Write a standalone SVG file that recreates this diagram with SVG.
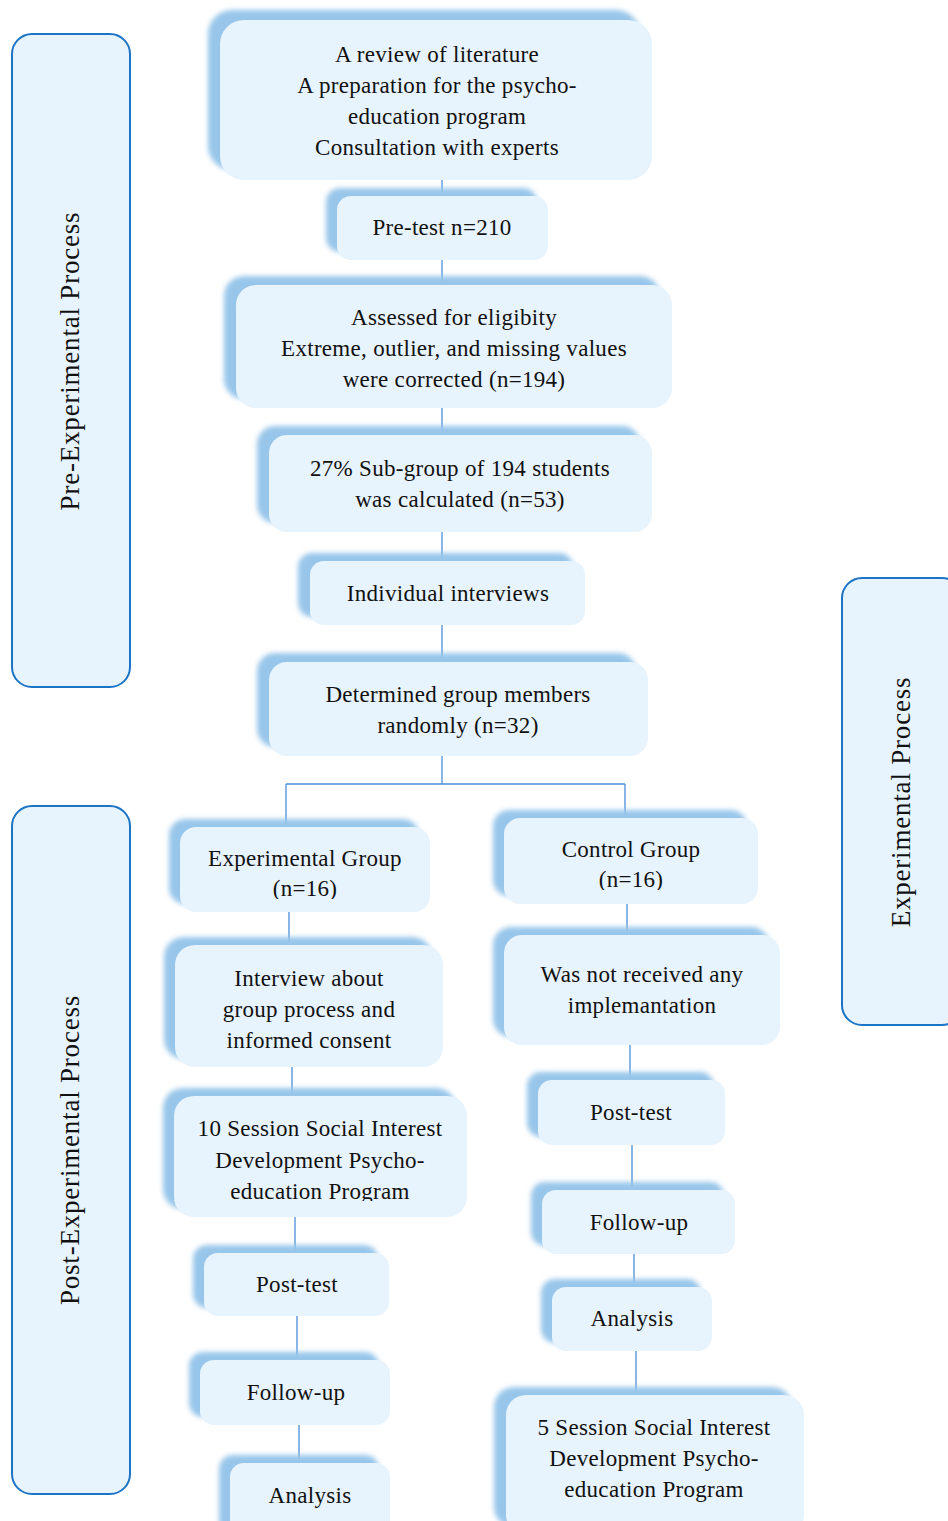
<svg xmlns="http://www.w3.org/2000/svg" width="948" height="1521" viewBox="0 0 948 1521">
<style>
.box{fill:#e7f3fd}
.sh{fill:#98c6ea;filter:url(#blur)}
.panel{fill:#e7f4fe;stroke:#1b74c5;stroke-width:2}
.t{font-family:"Liberation Serif","DejaVu Serif",serif;font-size:23px;letter-spacing:0.3px;fill:#111;text-anchor:middle}
.side{font-family:"Liberation Serif","DejaVu Serif",serif;font-size:27px;letter-spacing:0.8px;fill:#111;text-anchor:middle}
.c{stroke:#4a8fd8;stroke-width:1.3;fill:none}
</style>
<defs>
<filter id="blur" x="-10%" y="-10%" width="120%" height="120%"><feGaussianBlur stdDeviation="2.5"/></filter>
<clipPath id="cpEG"><rect x="170" y="820" width="270" height="79"/></clipPath>
<clipPath id="cpCG"><rect x="495" y="810" width="270" height="80"/></clipPath>
<clipPath id="cp10"><rect x="165" y="1090" width="310" height="111"/></clipPath>
</defs>
<rect width="948" height="1521" fill="#fff"/>

<g id="panel-pre"><rect class="panel" x="12" y="34" width="118" height="653" rx="20"/><text class="side" transform="translate(79,361) rotate(-90)">Pre-Experimental Process</text></g>
<g id="panel-post"><rect class="panel" x="12" y="806" width="118" height="688" rx="20"/><text class="side" transform="translate(79,1150) rotate(-90)">Post-Experimental Process</text></g>
<g id="panel-exp"><rect class="panel" x="842" y="578" width="120" height="447" rx="20"/><text class="side" transform="translate(910,802) rotate(-90)">Experimental Process</text></g>

<g id="connectors">
<path class="c" d="M442 180V196M442 260V285M442 408V435M442 532V561M442 625V662M442 756V784M286 784H625M286 784V827M625 784V818"/>
<path class="c" d="M289 912V945M292 1067V1096M295 1217V1253M297 1316V1360M299 1425V1463"/>
<path class="c" d="M627 904V935M630 1045V1080M632 1145V1190M634 1254V1287M636 1351V1395"/>
</g>

<g id="n1"><rect class="sh" x="208" y="10" width="432" height="160" rx="24"/><rect class="box" x="220" y="20" width="432" height="160" rx="24"/>
<text class="t" x="437" y="62">A review of literature</text><text class="t" x="437" y="93">A preparation for the psycho-</text><text class="t" x="437" y="124">education program</text><text class="t" x="437" y="155">Consultation with experts</text></g>

<g id="n2"><rect class="sh" x="326" y="188" width="211" height="64" rx="14"/><rect class="box" x="337" y="196" width="211" height="64" rx="14"/>
<text class="t" x="442" y="235">Pre-test n=210</text></g>

<g id="n3"><rect class="sh" x="224" y="276" width="436" height="123" rx="20"/><rect class="box" x="236" y="285" width="436" height="123" rx="20"/>
<text class="t" x="454" y="325">Assessed for eligibity</text><text class="t" x="454" y="356">Extreme, outlier, and missing values</text><text class="t" x="454" y="387">were corrected (n=194)</text></g>

<g id="n4"><rect class="sh" x="257" y="426" width="383" height="97" rx="18"/><rect class="box" x="269" y="435" width="383" height="97" rx="18"/>
<text class="t" x="460" y="476">27% Sub-group of 194 students</text><text class="t" x="460" y="507">was calculated (n=53)</text></g>

<g id="n5"><rect class="sh" x="298" y="553" width="275" height="64" rx="14"/><rect class="box" x="310" y="561" width="275" height="64" rx="14"/>
<text class="t" x="448" y="601">Individual interviews</text></g>

<g id="n6"><rect class="sh" x="257" y="653" width="379" height="94" rx="18"/><rect class="box" x="269" y="662" width="379" height="94" rx="18"/>
<text class="t" x="458" y="702">Determined group members</text><text class="t" x="458" y="733">randomly (n=32)</text></g>

<g id="n7"><rect class="sh" x="169" y="819" width="250" height="85" rx="16"/><rect class="box" x="180" y="827" width="250" height="85" rx="16"/>
<g clip-path="url(#cpEG)"><text class="t" x="305" y="866">Experimental Group</text><text class="t" x="305" y="896">(n=16)</text></g></g>

<g id="n8"><rect class="sh" x="493" y="810" width="254" height="86" rx="16"/><rect class="box" x="504" y="818" width="254" height="86" rx="16"/>
<g clip-path="url(#cpCG)"><text class="t" x="631" y="857">Control Group</text><text class="t" x="631" y="887">(n=16)</text></g></g>

<g id="n9"><rect class="sh" x="164" y="937" width="268" height="122" rx="20"/><rect class="box" x="175" y="945" width="268" height="122" rx="20"/>
<text class="t" x="309" y="986">Interview about</text><text class="t" x="309" y="1017">group process and</text><text class="t" x="309" y="1048">informed consent</text></g>

<g id="n10"><rect class="sh" x="493" y="927" width="276" height="110" rx="18"/><rect class="box" x="504" y="935" width="276" height="110" rx="18"/>
<text class="t" x="642" y="982">Was not received any</text><text class="t" x="642" y="1013">implemantation</text></g>

<g id="n11"><rect class="sh" x="163" y="1088" width="293" height="121" rx="20"/><rect class="box" x="174" y="1096" width="293" height="121" rx="20"/>
<g clip-path="url(#cp10)"><text class="t" x="320" y="1136">10 Session Social Interest</text><text class="t" x="320" y="1168">Development Psycho-</text><text class="t" x="320" y="1199">education Program</text></g></g>

<g id="n12"><rect class="sh" x="527" y="1072" width="187" height="65" rx="14"/><rect class="box" x="538" y="1080" width="187" height="65" rx="14"/>
<text class="t" x="631" y="1120">Post-test</text></g>

<g id="n13"><rect class="sh" x="193" y="1245" width="185" height="63" rx="14"/><rect class="box" x="204" y="1253" width="185" height="63" rx="14"/>
<text class="t" x="297" y="1292">Post-test</text></g>

<g id="n14"><rect class="sh" x="531" y="1182" width="193" height="64" rx="14"/><rect class="box" x="542" y="1190" width="193" height="64" rx="14"/>
<text class="t" x="639" y="1230">Follow-up</text></g>

<g id="n15"><rect class="sh" x="541" y="1279" width="160" height="64" rx="14"/><rect class="box" x="552" y="1287" width="160" height="64" rx="14"/>
<text class="t" x="632" y="1326">Analysis</text></g>

<g id="n16"><rect class="sh" x="189" y="1352" width="190" height="65" rx="14"/><rect class="box" x="200" y="1360" width="190" height="65" rx="14"/>
<text class="t" x="296" y="1400">Follow-up</text></g>

<g id="n17"><rect class="sh" x="494" y="1387" width="298" height="140" rx="20"/><rect class="box" x="506" y="1395" width="298" height="140" rx="20"/>
<text class="t" x="654" y="1435">5 Session Social Interest</text><text class="t" x="654" y="1466">Development Psycho-</text><text class="t" x="654" y="1497">education Program</text></g>

<g id="n18"><rect class="sh" x="219" y="1455" width="160" height="80" rx="14"/><rect class="box" x="230" y="1463" width="160" height="80" rx="14"/>
<text class="t" x="310" y="1503">Analysis</text></g>
</svg>
